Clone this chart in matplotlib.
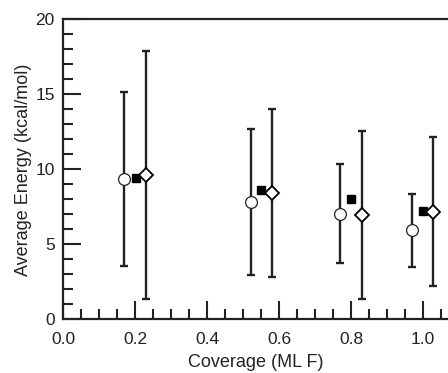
import matplotlib
matplotlib.use("Agg")
import matplotlib.pyplot as plt
from matplotlib.ticker import MultipleLocator

plt.rcParams["font.family"] = ["Liberation Sans", "DejaVu Sans"]

# ------------------------------
# Data
# ------------------------------
circle_x = [0.170, 0.521, 0.769, 0.970]
circle_y = [9.35, 7.80, 7.04, 5.95]
circle_lo = [3.57, 2.95, 3.77, 3.51]
circle_hi = [15.13, 12.70, 10.35, 8.37]

square_x = [0.202, 0.551, 0.800, 1.000]
square_y = [9.42, 8.62, 8.00, 7.20]

diamond_x = [0.230, 0.581, 0.831, 1.029]
diamond_y = [9.60, 8.40, 6.93, 7.17]
diamond_lo = [1.35, 2.84, 1.33, 2.22]
diamond_hi = [17.87, 14.04, 12.57, 12.17]

ink = "#222222"

fig = plt.figure(figsize=(4.48, 3.73), dpi=100)
ax = fig.add_axes([0.1406, 0.144, 0.8594, 0.804])

# error bars (drawn first so the markers sit on top)
c_err = [[y - lo for y, lo in zip(circle_y, circle_lo)],
         [hi - y for y, hi in zip(circle_y, circle_hi)]]
d_err = [[y - lo for y, lo in zip(diamond_y, diamond_lo)],
         [hi - y for y, hi in zip(diamond_y, diamond_hi)]]

ax.errorbar(circle_x, circle_y, yerr=c_err, fmt="none", ecolor=ink,
            elinewidth=1.7, capsize=3, capthick=1.7, zorder=1)
ax.errorbar(diamond_x, diamond_y, yerr=d_err, fmt="none", ecolor=ink,
            elinewidth=1.7, capsize=3, capthick=1.7, zorder=1)

ax.plot(circle_x, circle_y, "o", ms=8.5, mfc="white", mec=ink, mew=0.9,
        ls="none", zorder=3)
ax.plot(square_x, square_y, "s", ms=5.5, mfc="black", mec="black",
        ls="none", zorder=3)
ax.plot(diamond_x, diamond_y, "D", ms=7.5, mfc="white", mec="black", mew=1.3,
        ls="none", zorder=3)

ax.set_xlim(0, 1.0694)
ax.set_ylim(0, 20)

ax.xaxis.set_major_locator(MultipleLocator(0.2))
ax.xaxis.set_minor_locator(MultipleLocator(0.05))
ax.yaxis.set_major_locator(MultipleLocator(5))
ax.yaxis.set_minor_locator(MultipleLocator(1))
ax.xaxis.set_major_formatter(plt.FormatStrFormatter("%.1f"))

ax.tick_params(which="both", direction="in", top=False, right=False,
               color=ink, width=1.5, labelsize=12.5, labelcolor="#222222")
ax.tick_params(which="major", length=13)
ax.tick_params(axis="x", which="major", pad=9)
ax.tick_params(axis="y", which="major", pad=6)
ax.tick_params(which="minor", length=7)

for s in ["left", "bottom", "top"]:
    ax.spines[s].set_linewidth(1.6)
    ax.spines[s].set_color(ink)
ax.spines["right"].set_visible(False)

ax.set_xlabel("Coverage (ML F)", fontsize=13, color="#222222", labelpad=5)
ax.set_ylabel("Average Energy (kcal/mol)", fontsize=13, color="#222222", labelpad=2)

fig.savefig("out.png", dpi=100)
